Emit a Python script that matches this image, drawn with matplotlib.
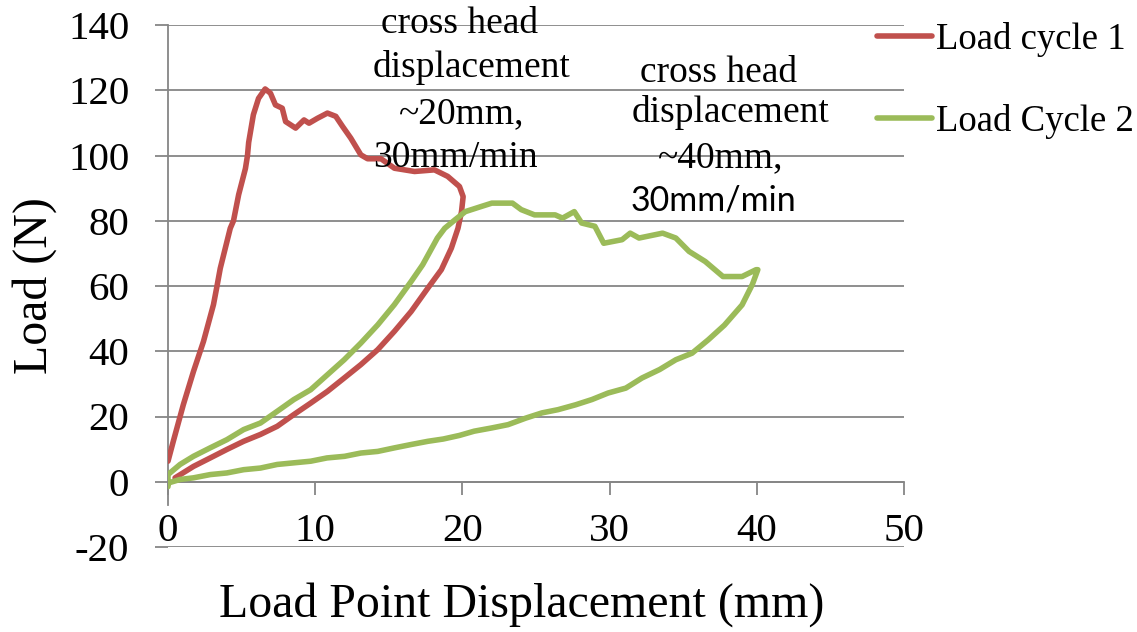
import matplotlib
matplotlib.use('Agg')
import matplotlib.pyplot as plt

# 하중 사이클 1 (하중-변위 루프)
cycle1_disp = [0.0, 0.36, 1.04, 1.73, 2.41, 3.09, 3.33, 3.55, 4.23, 4.45, 4.8, 5.26, 5.4, 5.48,
               5.8, 6.15, 6.6, 6.96, 7.3, 7.76, 7.99, 8.67, 9.24, 9.58, 10.15, 10.83, 11.4,
               11.86, 12.42, 13.1, 13.56, 14.47, 15.38, 16.75, 18.1, 19.0, 19.8, 20.05, 19.94,
               19.7, 19.25, 18.57, 17.66, 16.52, 15.38, 14.25, 13.1, 11.97, 10.83, 9.69, 8.55,
               7.42, 6.28, 5.14, 4.0, 2.87, 1.73, 0.48]
cycle1_load = [6.3, 12.4, 23.6, 33.8, 43.0, 54.3, 60.0, 65.4, 77.7, 80.0, 88.0, 96.0, 100.0, 104.0,
               112.5, 117.5, 120.4, 119.1, 115.5, 114.5, 110.4, 108.4, 110.9, 109.9, 111.4, 113.0, 112.0,
               108.9, 105.3, 100.2, 99.0, 99.0, 96.1, 95.1, 95.6, 93.6, 90.5, 87.4, 82.8,
               77.7, 71.6, 65.0, 59.4, 52.2, 46.1, 40.5, 35.9, 31.8, 27.7, 24.1, 20.6,
               17.0, 14.5, 12.4, 9.9, 7.3, 4.7, 1.2]

# 하중 사이클 2
cycle2_disp = [0.0, 0.0, 0.82, 1.73, 2.87, 4.0, 5.14, 6.28, 7.42, 8.55, 9.69, 10.83, 11.97, 13.1,
               14.25, 15.38, 16.52, 17.3, 18.3, 18.8, 19.5, 20.2, 21.3, 22.0, 22.9, 23.4, 24.0,
               24.9, 26.3, 26.8, 27.6, 28.1, 29.0, 29.6, 30.85, 31.4, 32.0, 33.6, 34.5, 35.4,
               36.5, 37.7, 39.0, 39.95, 40.07, 39.7, 39.0, 37.8, 36.7, 35.6, 34.5, 33.4, 32.2,
               31.1, 29.9, 28.8, 27.7, 26.5, 25.4, 24.3, 23.1, 22.0, 20.8, 19.8, 18.7, 17.66,
               16.5, 15.4, 14.25, 13.1, 12.0, 10.8, 9.7, 8.55, 7.42, 6.28, 5.14, 4.0, 2.87,
               1.73, 0.82, 0.0]
cycle2_load = [-1.5, 2.2, 5.3, 7.8, 10.4, 12.9, 16.0, 18.0, 21.6, 25.2, 28.2, 32.8, 37.4, 42.5,
               48.1, 54.3, 61.4, 66.5, 74.7, 77.7, 80.3, 82.8, 84.4, 85.4, 85.4, 85.4, 83.4,
               81.8, 81.8, 80.8, 82.8, 79.3, 78.3, 73.1, 74.2, 76.2, 74.7, 76.2, 74.7, 70.6,
               67.5, 62.9, 62.9, 65.0, 65.0, 60.5, 54.2, 48.0, 43.5, 39.4, 37.4, 34.4, 31.8,
               28.7, 27.2, 25.2, 23.6, 22.1, 21.1, 19.5, 17.5, 16.5, 15.5, 14.2, 13.1, 12.4,
               11.4, 10.4, 9.3, 8.8, 7.8, 7.3, 6.3, 5.8, 5.3, 4.2, 3.7, 2.7, 2.2,
               1.2, 0.7, -0.4]

series_names = ['Load cycle 1', 'Load Cycle 2']
series_colors = ['#C0504D', '#9BBB59']
x_ticks = [0, 10, 20, 30, 40, 50]
y_ticks = [-20, 0, 20, 40, 60, 80, 100, 120, 140]

W, H = 1137, 632
SERIF = 'Liberation Serif'
GRID = '#868686'

plt.rcParams['font.family'] = [SERIF, 'DejaVu Serif']
plt.rcParams['axes.unicode_minus'] = False

def fx(px):
    return px / W

def fy(py):
    return 1 - py / H

fig = plt.figure(figsize=(W / 100, H / 100), dpi=100)
ax = fig.add_axes([fx(168), fy(547), fx(904) - fx(168), fy(25) - fy(547)])

ax.plot(cycle1_disp, cycle1_load, color=series_colors[0], lw=4.0, label=series_names[0],
        solid_capstyle='round', solid_joinstyle='round', zorder=3)
ax.plot(cycle2_disp, cycle2_load, color=series_colors[1], lw=4.0, label=series_names[1],
        solid_capstyle='round', solid_joinstyle='round', zorder=3)

ax.set_xlim(0, 50)
ax.set_ylim(-20, 140)

# 축 스타일 (엑셀 느낌)
for side in ['top', 'right']:
    ax.spines[side].set_visible(False)
ax.spines['bottom'].set_position(('data', 0))
ax.spines['left'].set_bounds(-7, 140)
for side in ['left', 'bottom']:
    ax.spines[side].set_color(GRID)
    ax.spines[side].set_linewidth(1.3)

ax.set_xticks(x_ticks)
ax.set_yticks(y_ticks)
ax.tick_params(axis='both', direction='out', length=9.4, width=1.3, color=GRID, labelsize=29.5)
ax.tick_params(axis='y', pad=18.5)
ax.tick_params(axis='x', pad=13)
ax.yaxis.grid(True, color=GRID, lw=1.3)
ax.set_axisbelow(True)

fig.text(fx(35), fy(286), 'Load (N)', rotation=90, ha='center', va='center', fontsize=34.5)
fig.text(fx(522), fy(605), 'Load Point Displacement (mm)', ha='center', va='center', fontsize=34.5)

# 크로스헤드 변위 설명 텍스트
note1 = [('cross head', 459.5, 33), ('displacement', 471.5, 77),
         ('~20mm,', 462, 123), ('30mm/min', 455, 167)]
for txt, cx, by in note1:
    fig.text(fx(cx), fy(by), txt, ha='center', va='baseline', fontsize=27)

note2 = [('cross head', 718.5, 82), ('displacement', 730.5, 122), ('~40mm,', 720.5, 167)]
for txt, cx, by in note2:
    fig.text(fx(cx), fy(by), txt, ha='center', va='baseline', fontsize=27)
fig.text(fx(713.5), fy(210), '30mm/min', ha='center', va='baseline', fontsize=24.5, fontfamily='Lato')

leg = ax.legend(loc='upper left', bbox_to_anchor=(fx(877), fy(22)), bbox_transform=fig.transFigure,
                frameon=False, borderpad=0, borderaxespad=0, handlelength=1.5, handletextpad=0.1,
                labelspacing=1.28, prop={'family': SERIF, 'size': 26.5})

fig.savefig('out.png', dpi=100)
